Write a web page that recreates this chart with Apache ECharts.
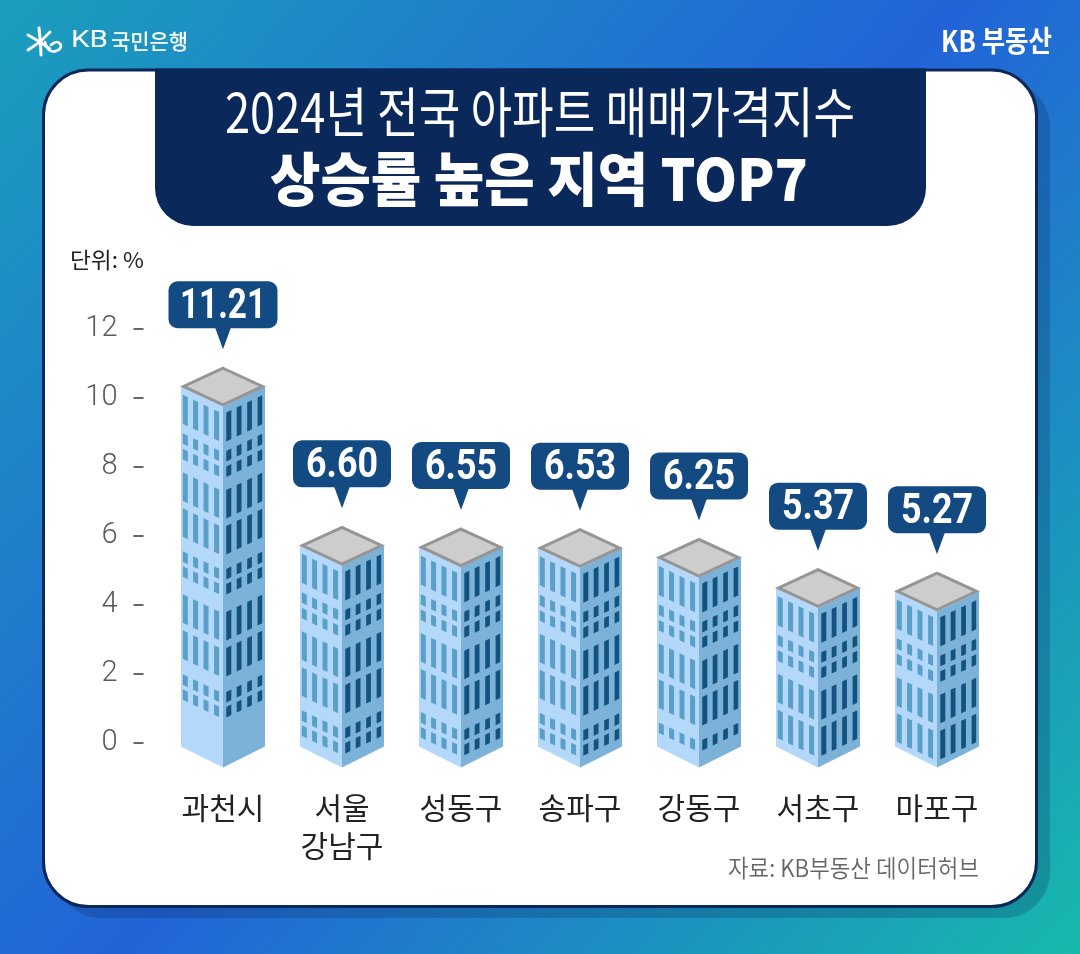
<!DOCTYPE html>
<html><head><meta charset="utf-8">
<style>html,body{margin:0;padding:0;background:#fff}#c{width:1080px;height:954px}</style>
<script src="https://cdn.jsdelivr.net/npm/echarts@6/dist/echarts.min.js"></script>
</head><body><div id="c"></div>
<script>
const categories = ['과천시', '서울\n강남구', '성동구', '송파구', '강동구', '서초구', '마포구'];
const values = [11.21, 6.60, 6.55, 6.53, 6.25, 5.37, 5.27];
const valueLabels = ['11.21', '6.60', '6.55', '6.53', '6.25', '5.37', '5.27'];
const titleLine1 = '2024년 전국 아파트 매매가격지수';
const titleLine2 = '상승률 높은 지역 TOP7';
const unitText = '단위: %';
const sourceText = '자료: KB부동산 데이터허브';

const KR = '"Noto Sans CJK KR","Noto Sans",sans-serif';
const NAVY = '#0a2859', BUBBLE = '#144a82';
const ctx = document.createElement('canvas').getContext('2d');
function measure(text, font) { ctx.font = font; return ctx.measureText(text).width; }
// text element stretched horizontally to a target width
function fit(text, font, left, right, cy, fill, align) {
  const s = (right - left) / measure(text, font);
  return { type: 'text', x: align === 'center' ? (left + right) / 2 : left, y: cy, scaleX: s, scaleY: 1, z: 1,
    style: { text, font, fill, align: align || 'left', verticalAlign: 'middle' } };
}
const FACE_W = 42, SLOPE = 0.476;
// facade rows: start below the roof edge, height
const rows = [[7.5,29],[46,10.5],[61.5,10.5],[85,28.5],[121,28.5],[164,10.5],[179,10.5],[207,28.5],[243,28.5],[287,10.5],[302,10.5]];
const leftCols = [[1.8,6.8],[12.1,17.1],[22.5,27.5],[33.1,38.1]];
const rightCols = [[3.3,8.3],[13.7,18.5],[24.2,28.9],[34.6,39.2]];

function poly(points, fill, extra) {
  return Object.assign({ type: 'polygon', shape: { points }, style: { fill } }, extra || {});
}
function renderBuilding(params, api) {
  const idx = api.value(0), v = api.value(1);
  const [cx, valY] = api.coord([idx, v]);
  const [, y0] = api.coord([idx, 0]);
  const apex = valY + 11, topSide = apex + 19.7, topFront = apex + 39.7;
  const baseSide = y0 + 4, baseFront = y0 + 25;
  const h = baseSide - topSide;
  const kids = [];
  kids.push(poly([[cx-FACE_W,topSide],[cx,topFront],[cx,baseFront],[cx-FACE_W,baseSide]], '#b4d8fa'));
  kids.push(poly([[cx,topFront],[cx+FACE_W,topSide],[cx+FACE_W,baseSide],[cx,baseFront]], '#7cb2d8'));
  rows.forEach(([s, len]) => {
    if (s + len > h - 3) return;
    leftCols.forEach(([a, b]) => {
      const ya = topSide + a * SLOPE + s, yb = topSide + b * SLOPE + s;
      kids.push(poly([[cx-FACE_W+a,ya],[cx-FACE_W+b,yb],[cx-FACE_W+b,yb+len],[cx-FACE_W+a,ya+len]], '#599fc7'));
    });
    rightCols.forEach(([a, b]) => {
      const ya = topFront - a * SLOPE + s, yb = topFront - b * SLOPE + s;
      kids.push(poly([[cx+a,ya],[cx+b,yb],[cx+b,yb+len],[cx+a,ya+len]], '#11527e'));
    });
  });
  kids.push(poly([[cx,apex+1.5],[cx+FACE_W-2.5,topSide],[cx,topFront-1.5],[cx-FACE_W+2.5,topSide]], '#cdcdcd',
    { style: { fill: '#cdcdcd', stroke: '#959595', lineWidth: 3, lineJoin: 'miter' } }));
  // value callout
  const label = valueLabels[idx];
  const font = '700 43px Roboto,sans-serif';
  const sx = (14 * label.length + 16) / measure(label, font);
  const w = 54 + 11 * label.length;
  const top = valY - 74.5, bottom = valY - 27.5, tip = valY - 6.5;
  kids.push({ type: 'rect', shape: { x: cx - w / 2, y: top, width: w, height: bottom - top, r: 9 }, style: { fill: BUBBLE } });
  kids.push(poly([[cx-8,bottom-1],[cx+8,bottom-1],[cx,tip]], BUBBLE));
  kids.push({ type: 'text', x: cx, y: top + 26, scaleX: sx, style: { text: label, font, fill: '#fff', align: 'center', verticalAlign: 'middle' } });
  return { type: 'group', children: kids };
}

const W = 1080, H = 954;
const graphic = [
  { type: 'rect', z: 0, shape: { x: 0, y: 0, width: W, height: H },
    style: { fill: new echarts.graphic.LinearGradient(0, 0, 1, 1, [
      { offset: 0, color: '#1b9fbc' }, { offset: 0.5, color: '#2263d8' }, { offset: 1, color: '#17b9ac' }]) } },
  { type: 'rect', z: 0, shape: { x: 55, y: 81, width: 995, height: 837, r: 46 }, style: { fill: 'rgba(10,40,89,0.24)' } },
  { type: 'rect', z: 0, shape: { x: 43.5, y: 70, width: 993, height: 836.5, r: 45 }, style: { fill: '#fff', stroke: NAVY, lineWidth: 3 } },
  { type: 'rect', z: 0, shape: { x: 155, y: 68.5, width: 771, height: 157.5, r: [0, 0, 38, 38] }, style: { fill: NAVY } },
  fit(titleLine1, '400 54px ' + KR, 225, 855, 112, '#fff'),
  fit(titleLine2, '900 58px ' + KR, 270, 808, 179, '#fff'),
  fit('KB', '400 24px Roboto,sans-serif', 71, 108, 41, '#fff'),
  fit('국민은행', '500 21px ' + KR, 111, 188, 41, '#fff'),
  fit('KB 부동산', '700 29px ' + KR, 941, 1052, 41, '#fff'),
  fit(unitText, '400 22px ' + KR, 70, 144, 260, '#222'),
  fit(sourceText, '350 24px ' + KR, 728, 979, 868, '#666'),
  // bank mark
  { type: 'polyline', z: 1, shape: { points: [[39,28],[40.5,43],[41,55]] }, style: { stroke: '#fff', fill: 'none', lineWidth: 3, lineCap: 'round' } },
  { type: 'polyline', z: 1, shape: { points: [[28,35],[40,42],[50,49]] }, style: { stroke: '#fff', fill: 'none', lineWidth: 2.8, lineCap: 'round' } },
  { type: 'polyline', z: 1, shape: { points: [[28,50],[40,42],[50,32]] }, style: { stroke: '#fff', fill: 'none', lineWidth: 2.8, lineCap: 'round' } },
  { type: 'polyline', z: 1, shape: { points: [[45,42],[49,50],[56,51],[61,46],[57,42],[51,45]], smooth: 0.4 }, style: { stroke: '#fff', fill: 'none', lineWidth: 2.6, lineCap: 'round' } }
];

const chart = echarts.init(document.getElementById('c'), null, { renderer: 'canvas', width: W, height: H });
chart.setOption({
  animation: false,
  graphic,
  grid: { left: 163.5, right: 83.5, top: 328.5, bottom: 211.5, containLabel: false },
  xAxis: { type: 'category', data: categories, axisLine: { show: false }, axisTick: { show: false },
    axisLabel: { margin: 46, interval: 0, color: '#222', fontSize: 30, lineHeight: 38, fontFamily: KR, fontWeight: 400 } },
  yAxis: { type: 'value', min: 0, max: 12, interval: 2, offset: 20, splitLine: { show: false },
    axisLine: { show: false }, axisTick: { show: true, length: 10, lineStyle: { color: '#666', width: 2 } },
    axisLabel: { margin: 26, color: '#5a5a5a', fontSize: 29, fontWeight: 300, fontFamily: 'Roboto,sans-serif', padding: [5, 0, 0, 0] } },
  series: [{ type: 'custom', z: 5, clip: false, renderItem: renderBuilding, encode: { x: 0, y: 1 },
    data: values.map((v, i) => [i, v]) }]
});
</script></body></html>
